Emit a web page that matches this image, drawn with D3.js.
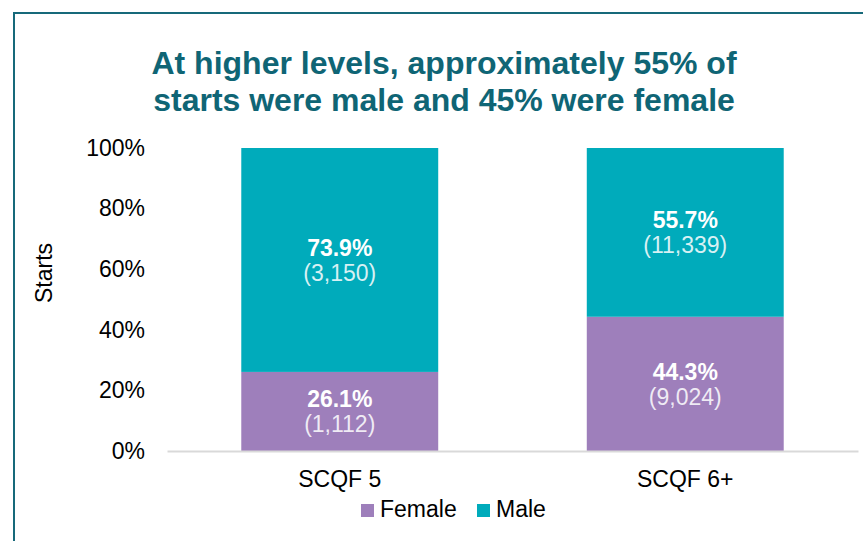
<!DOCTYPE html>
<html>
<head>
<meta charset="utf-8">
<script src="https://cdn.jsdelivr.net/npm/d3@7"></script>
<style>
  body { margin: 0; background: #fff; }
  svg { display: block; font-family: "Liberation Sans", Arial, sans-serif; }
</style>
</head>
<body>
<svg id="chart" width="863" height="541"></svg>
<script>
// chart values
var categories = ["SCQF 5", "SCQF 6+"];
var femalePct = [26.1, 44.3];
var malePct = [73.9, 55.7];
var femaleCount = [1112, 9024];
var maleCount = [3150, 11339];
var yTicks = [0, 20, 40, 60, 80, 100];
var titleLines = ["At higher levels, approximately 55% of", "starts were male and 45% were female"];

(function () {
    'use strict';

    var colors = { Female: "#9e7fbb", Male: "#00abbb" };
    var margin = { top: 148, right: 5, bottom: 90, left: 167 },
        width = 863 - margin.left - margin.right,
        height = 541 - margin.top - margin.bottom;
    var fs = 23;

    var svg = d3.select('#chart');

    // frame, cut off on right and bottom
    svg.append('path')
        .attr('d', 'M14,541V13H863')
        .attr('fill', 'none')
        .attr('stroke', '#17697a')
        .attr('stroke-width', 2);

    svg.append('g').selectAll('text').data(titleLines).enter().append('text')
        .attr('x', 444)
        .attr('y', function (d, i) { return 74 + i * 37; })
        .attr('text-anchor', 'middle')
        .attr('font-size', 32)
        .attr('font-weight', 'bold')
        .attr('fill', '#0f6575')
        .text(function (d) { return d; });

    var rows = categories.map(function (c, i) {
        return { cat: c, Female: femalePct[i], Male: malePct[i], fc: femaleCount[i], mc: maleCount[i] };
    });
    var series = d3.stack().keys(['Female', 'Male'])(rows);

    var x = d3.scaleBand().domain(categories).range([0, width]).paddingInner(0.43).paddingOuter(0.215);
    var y = d3.scaleLinear().domain([0, 100]).range([height, 0]);

    var g = svg.append('g').attr('transform', 'translate(' + margin.left + ',' + margin.top + ')');

    var yAxis = g.append('g')
        .call(d3.axisLeft(y).tickValues(yTicks).tickSize(0).tickPadding(22)
            .tickFormat(function (d) { return d + '%'; }));
    yAxis.select('.domain').remove();
    yAxis.selectAll('text').attr('font-size', fs).attr('fill', '#000').attr('font-family', null);

    var layers = g.selectAll('.layer').data(series).enter().append('g')
        .attr('fill', function (d) { return colors[d.key]; });

    layers.selectAll('rect').data(function (d) { return d; }).enter().append('rect')
        .attr('x', function (d) { return x(d.data.cat); })
        .attr('width', x.bandwidth())
        .attr('y', function (d) { return y(d[1]); })
        .attr('height', function (d) { return y(d[0]) - y(d[1]); });

    // data labels
    series.forEach(function (s) {
        s.forEach(function (d) {
            var mid = (y(d[0]) + y(d[1])) / 2;
            var cx = x(d.data.cat) + x.bandwidth() / 2;
            var cnt = s.key === 'Female' ? d.data.fc : d.data.mc;
            g.append('text')
                .attr('x', cx).attr('y', mid - 4)
                .attr('text-anchor', 'middle')
                .attr('font-size', fs).attr('font-weight', 'bold').attr('fill', '#fff')
                .text(d3.format('.1f')(d.data[s.key]) + '%');
            g.append('text')
                .attr('x', cx).attr('y', mid + 21)
                .attr('text-anchor', 'middle')
                .attr('font-size', fs).attr('fill', '#fff').attr('fill-opacity', 0.85)
                .text('(' + d3.format(',')(cnt) + ')');
        });
    });

    var xAxis = g.append('g').attr('transform', 'translate(0,' + height + ')')
        .call(d3.axisBottom(x).tickSize(0).tickPadding(20));
    xAxis.select('.domain').attr('stroke', '#d9d9d9').attr('stroke-width', 2);
    xAxis.selectAll('text').attr('font-size', fs).attr('fill', '#000').attr('font-family', null);

    svg.append('text')
        .attr('transform', 'translate(52,273) rotate(-90)')
        .attr('text-anchor', 'middle')
        .attr('font-size', fs)
        .text('Starts');

    // legend
    var legend = svg.append('g').attr('transform', 'translate(361,504)');
    var items = legend.selectAll('g').data(['Female', 'Male']).enter().append('g')
        .attr('transform', function (d, i) { return 'translate(' + (i * 116) + ',0)'; });
    items.append('rect').attr('width', 13).attr('height', 13)
        .attr('fill', function (d) { return colors[d]; });
    items.append('text').attr('x', 19).attr('y', 13)
        .attr('font-size', fs)
        .text(function (d) { return d; });
})();
</script>
</body>
</html>
